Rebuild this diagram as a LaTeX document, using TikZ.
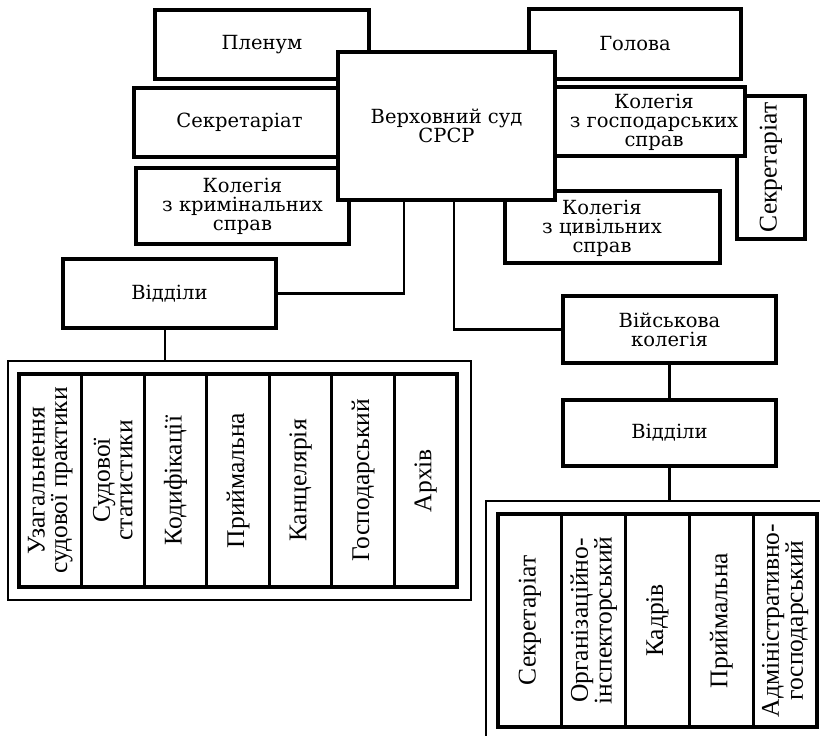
\documentclass[tikz,border=0pt]{standalone}
\usepackage{fontspec}
\setmainfont{Liberation Serif}
\newfontfamily\hfont{DejaVu Serif}
\begin{document}
\begin{tikzpicture}[x=1pt,y=-1pt,
  box/.style={draw, line width=3.2pt, fill=white, inner sep=0pt, outer sep=0pt,
    align=center, font=\hfont\fontsize{19.5}{19}\selectfont},
  txt/.style={inner sep=0pt, align=center, font=\hfont\fontsize{19.5}{19}\selectfont},
  cell/.style={draw, line width=3.2pt, fill=white, inner sep=0pt, outer sep=0pt,
    rotate=90, align=center, minimum width=213pt,
    font=\fontsize{25.5}{22.5}\selectfont},
  conn/.style={line width=2.2pt},
  grp/.style={draw, line width=2pt, inner sep=0pt, outer sep=0pt}
]
\useasboundingbox (0,0) rectangle (820,736);
% back boxes
\node[box, minimum width=214pt, minimum height=69pt] (plenum) at (262,44.5) {Пленум};
\node[box, minimum width=212pt, minimum height=70pt] (holova) at (635,44) {Голова};
\node[box, minimum width=211pt, minimum height=69pt] (sekrL) at (239.5,122.5) {Секретаріат};
\node[box, minimum width=213pt, minimum height=76pt] (krym) at (242.5,206) {Колегія\\з кримінальних\\справ};
\node[box, minimum width=68pt, minimum height=143pt] (sekrR) at (771,167.5) {};
\node[inner sep=0pt, rotate=90, font=\fontsize{25.5}{22.5}\selectfont] (sekrRt) at (sekrR.center) {Секретаріат};
\node[box, minimum width=200pt, minimum height=69pt] (gosp) at (645,121.5) {};
\node[txt] (gospt) at (654,122) {Колегія\\з господарських\\справ};
\node[box, minimum width=215pt, minimum height=72pt] (civil) at (612.5,227) {};
\node[txt] (civilt) at (602,228) {Колегія\\з цивільних\\справ};
% main box
\node[box, minimum width=217pt, minimum height=148pt] (main) at (446.5,126) {Верховний суд\\СРСР};
\path (main.south west) ++(66,0) coordinate (m1);
\path (main.south west) ++(116,0) coordinate (m2);
% left branch
\node[box, minimum width=213pt, minimum height=69pt] (viddL) at (169.5,293.5) {Відділи};
\draw[conn] (viddL.east) -| (m1);
\node[grp, minimum width=463pt, minimum height=239pt] (groupL) at (239.5,480.5) {};
\coordinate (vLb) at (165,328);
\draw[conn] (vLb) -- (vLb |- groupL.north);
\node[cell, minimum height=62.57pt] (cL1) at (50.3,480.5) {Узагальнення\\судової практики};
\node[cell, minimum height=62.57pt] (cL2) at (112.9,480.5) {Судової\\статистики};
\node[cell, minimum height=62.57pt] (cL3) at (175.4,480.5) {Кодифікації};
\node[cell, minimum height=62.57pt] (cL4) at (238.0,480.5) {Приймальна};
\node[cell, minimum height=62.57pt] (cL5) at (300.6,480.5) {Канцелярія};
\node[cell, minimum height=62.57pt] (cL6) at (363.1,480.5) {Господарський};
\node[cell, minimum height=62.57pt] (cL7) at (425.7,480.5) {Архів};
% right branch
\node[box, minimum width=213pt, minimum height=67pt] (vijsk) at (669.5,329.5) {Військова\\колегія};
\draw[conn] (vijsk.west) -| (m2);
\node[box, minimum width=213pt, minimum height=66pt] (viddR) at (669.5,433) {Відділи};
\draw[conn] (vijsk.south) -- (viddR.north);
\coordinate (gRtop) at (669.5,501);
\coordinate (gRbl) at (486,750);
\coordinate (gRtr) at (830,501);
\draw[line width=2pt] (gRbl) -- (gRbl |- gRtop) -- (gRtr);
\draw[conn] (viddR.south) -- (gRtop);
\node[cell, minimum height=63.8pt] (cR1) at (529.9,620.5) {Секретаріат};
\node[cell, minimum height=63.8pt] (cR2) at (593.7,620.5) {Організаційно-\\інспекторський};
\node[cell, minimum height=63.8pt] (cR3) at (657.5,620.5) {Кадрів};
\node[cell, minimum height=63.8pt] (cR4) at (721.3,620.5) {Приймальна};
\node[cell, minimum height=63.8pt] (cR5) at (785.1,620.5) {Адміністративно-\\господарський};
\end{tikzpicture}
\end{document}
